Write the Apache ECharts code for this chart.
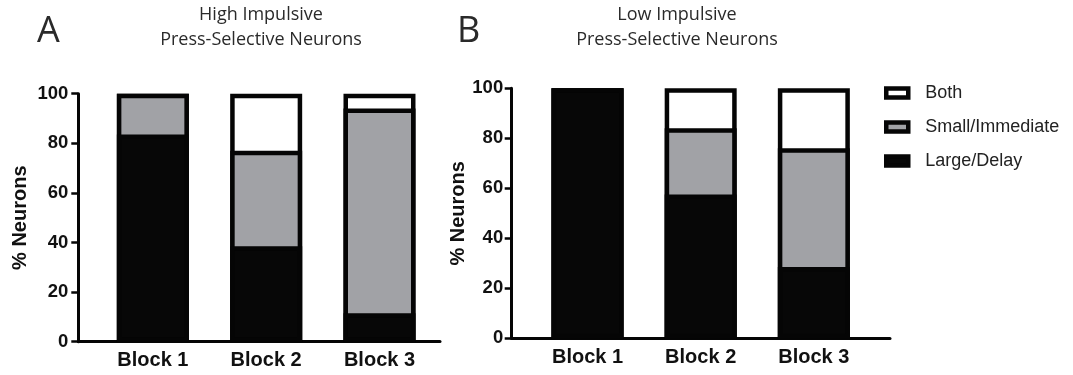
<!DOCTYPE html>
<html>
<head>
<meta charset="utf-8">
<title>Press-selective neurons</title>
<script src="https://cdn.jsdelivr.net/npm/echarts@6/dist/echarts.min.js"></script>
<style>
  html, body { margin: 0; padding: 0; background: #fff; }
  #chart { width: 1073px; height: 375px; }
</style>
</head>
<body>
<div id="chart"></div>
<script>
// values (% of neurons per block)
var blocks = ['Block 1', 'Block 2', 'Block 3'];
var highLarge = [83.5, 38.5, 11.5];
var highSmall = [16.5, 38.5, 82.5];
var highBoth = [0, 23, 6];
var lowLarge = [100, 57.5, 28.5];
var lowSmall = [0, 26.5, 47.5];
var lowBoth = [0, 16, 24];
var yTicks = [0, 20, 40, 60, 80, 100];
var legendNames = ['Both', 'Small/Immediate', 'Large/Delay'];

var boldFont = '"Liberation Sans", Arial, sans-serif';
var titleFont = '"Open Sans", sans-serif';
var ink = '#050505';

// the x axes are value axes (to place the bars like the figure), where
// echarts won't stack on y, so each segment is drawn as a bar from 0 up to
// its running total and the bars overlap (top segment first)
function runningTotal() {
  var lists = Array.prototype.slice.call(arguments);
  return lists[0].map(function (v, i) {
    var s = 0;
    lists.forEach(function (l) { s += l[i]; });
    return [i, s];
  });
}

function barSeries(name, data, color, idx) {
  return {
    type: 'bar',
    name: name,
    xAxisIndex: idx,
    yAxisIndex: idx,
    barWidth: 72,
    barGap: '-100%',
    data: data,
    itemStyle: { color: color, borderColor: ink, borderWidth: 4.5 },
    emphasis: { disabled: true }
  };
}

function xAxisFor(idx, min, max) {
  return {
    type: 'value',
    gridIndex: idx,
    min: min,
    max: max,
    splitLine: { show: false },
    axisLine: { show: true, onZero: false, lineStyle: { color: ink, width: 3 } },
    axisTick: { show: false },
    axisLabel: {
      customValues: [0, 1, 2],
      formatter: function (v) { return blocks[Math.round(v)]; },
      margin: 9,
      fontSize: 20,
      fontWeight: 'bold',
      color: '#111',
      fontFamily: boldFont
    }
  };
}

function yAxisFor(idx, labelMargin, nameGap) {
  return {
    type: 'value',
    gridIndex: idx,
    min: 0,
    max: 100,
    name: '% Neurons',
    nameLocation: 'middle',
    nameRotate: 90,
    nameGap: nameGap,
    nameTextStyle: { fontSize: 20, fontWeight: 'bold', color: '#111', fontFamily: boldFont },
    splitLine: { show: false },
    axisLine: { show: true, onZero: false, lineStyle: { color: ink, width: 3 } },
    axisTick: { show: true, length: 7, customValues: yTicks, lineStyle: { color: ink, width: 2.5 } },
    axisLabel: {
      customValues: yTicks,
      margin: labelMargin,
      fontSize: 18.5,
      fontWeight: 'bold',
      color: '#111',
      fontFamily: boldFont
    }
  };
}

var titleStyle = { fontFamily: titleFont, fontWeight: 'normal', color: '#2a2a2a' };

var option = {
  animation: false,
  backgroundColor: '#fff',
  title: [
    { text: 'A', left: 37, top: 14, padding: 0,
      textStyle: Object.assign({}, titleStyle, { fontSize: 36, lineHeight: 36 }) },
    { text: 'High Impulsive\nPress-Selective Neurons', left: 261, top: 3, padding: 0, textAlign: 'center',
      textStyle: Object.assign({}, titleStyle, { fontSize: 18, lineHeight: 24.5 }) },
    { text: 'B', left: 457, top: 14, padding: 0,
      textStyle: Object.assign({}, titleStyle, { fontSize: 36, lineHeight: 36 }) },
    { text: 'Low Impulsive\nPress-Selective Neurons', left: 677, top: 3, padding: 0, textAlign: 'center',
      textStyle: Object.assign({}, titleStyle, { fontSize: 18, lineHeight: 24.5 }) }
  ],
  legend: {
    data: legendNames,
    orient: 'vertical',
    left: 884,
    top: 83,
    padding: 0,
    icon: 'rect',
    itemWidth: 22,
    itemHeight: 9,
    itemGap: 14,
    selectedMode: false,
    itemStyle: { borderColor: ink, borderWidth: 4.5 },
    textStyle: { fontFamily: boldFont, fontSize: 18, lineHeight: 20, color: '#222', padding: [0, 0, 0, 12] }
  },
  grid: [
    { left: 78.3, top: 93.7, width: 361.7, height: 248 },
    { left: 511.7, top: 88.3, width: 378.3, height: 250 }
  ],
  xAxis: [xAxisFor(0, -0.658, 2.534), xAxisFor(1, -0.67, 2.673)],
  yAxis: [yAxisFor(0, 10, 48), yAxisFor(1, 8.5, 43)],
  series: [
    barSeries('Both', runningTotal(highLarge, highSmall, highBoth), '#ffffff', 0),
    barSeries('Small/Immediate', runningTotal(highLarge, highSmall), '#a1a2a6', 0),
    barSeries('Large/Delay', runningTotal(highLarge), '#070707', 0),
    barSeries('Both', runningTotal(lowLarge, lowSmall, lowBoth), '#ffffff', 1),
    barSeries('Small/Immediate', runningTotal(lowLarge, lowSmall), '#a1a2a6', 1),
    barSeries('Large/Delay', runningTotal(lowLarge), '#070707', 1)
  ]
};

var chart = echarts.init(document.getElementById('chart'));
chart.setOption(option);
</script>
</body>
</html>
